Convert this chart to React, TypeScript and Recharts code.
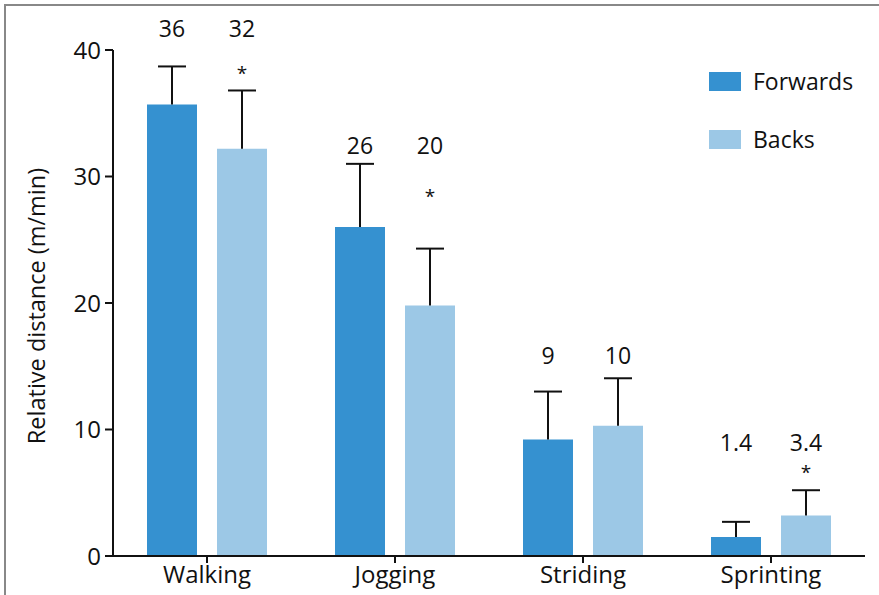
import { BarChart, Bar, XAxis, YAxis, ReferenceDot } from 'recharts';

const categories = ['Walking', 'Jogging', 'Striding', 'Sprinting'];
const forwards = [35.7, 26.0, 9.2, 1.5];
const forwardsSd = [3.0, 5.0, 3.8, 1.2];
const backs = [32.2, 19.8, 10.3, 3.2];
const backsSd = [4.6, 4.5, 3.75, 2.0];
const forwardsLabels = ['36', '26', '9', '1.4'];
const backsLabels = ['32', '20', '10', '3.4'];
const backsSignificant = [true, true, false, true];
const yTicks = [0, 10, 20, 30, 40];

// annotation heights, in axis units
const labelLevel = [41.7, 32.5, 15.9, 9.0];
const starLevel = [38.2, 28.45, 0, 6.64];

const FWD = '#3591d0';
const BCK = '#9cc8e6';
const FONT = '"Open Sans", sans-serif';

const data = categories.map((category, i) => ({
  category,
  forwards: forwards[i],
  forwardsSd: forwardsSd[i],
  backs: backs[i],
  backsSd: backsSd[i],
}));

function ErrorShape(props: any) {
  const { x, y, width, height } = props;
  const cx = x + width / 2;
  return (
    <g stroke="#111" strokeWidth={2}>
      <line x1={cx} y1={y + height} x2={cx} y2={y} />
      <line x1={cx - 14} y1={y} x2={cx + 14} y2={y} />
    </g>
  );
}

const textAt = (text: string, dx: number, size: number) => (p: any) => (
  <text
    x={p.viewBox.x + dx}
    y={p.viewBox.y}
    textAnchor="middle"
    dominantBaseline="central"
    fontSize={size}
    fontFamily={FONT}
    fill="#111"
  >
    {text}
  </text>
);

function LegendBox() {
  const items = [
    { name: 'Forwards', color: FWD },
    { name: 'Backs', color: BCK },
  ];
  return (
    <div style={{ position: 'absolute', left: 709, top: 52, fontFamily: FONT, fontSize: 23, color: '#111' }}>
      {items.map((it) => (
        <div key={it.name} style={{ display: 'flex', alignItems: 'center', height: 58 }}>
          <div style={{ width: 32, height: 19, background: it.color, marginRight: 12 }} />
          <span>{it.name}</span>
        </div>
      ))}
    </div>
  );
}

export default function App() {
  return (
    <div style={{ position: 'absolute', left: 0, top: 0, width: 879, height: 595, background: '#fff', overflow: 'hidden' }}>
      <div
        style={{
          position: 'absolute', left: 4, top: 4, width: 900, height: 620,
          borderTop: '2px solid #888', borderLeft: '2px solid #888',
        }}
      />
      <BarChart
        width={879}
        height={595}
        data={data}
        margin={{ top: 50, right: 14, bottom: 0, left: 0 }}
        barSize={50}
        barGap={20}
      >
        <XAxis
          dataKey="category"
          height={39}
          tickSize={7}
          tickMargin={3}
          axisLine={{ stroke: '#111', strokeWidth: 2 }}
          tickLine={{ stroke: '#111', strokeWidth: 2 }}
          tick={{ fill: '#111', fontSize: 24, fontFamily: FONT }}
        />
        <YAxis
          width={113}
          domain={[0, 40]}
          ticks={yTicks}
          tickSize={8}
          tickMargin={4}
          axisLine={{ stroke: '#111', strokeWidth: 2 }}
          tickLine={{ stroke: '#111', strokeWidth: 2 }}
          tick={{ fill: '#111', fontSize: 24, fontFamily: FONT }}
          label={() => (
            <text
              x={36}
              y={306}
              transform="rotate(-90, 36, 306)"
              textAnchor="middle"
              dominantBaseline="central"
              fontSize={23.5}
              fontFamily={FONT}
              fill="#111"
            >
              Relative distance (m/min)
            </text>
          )}
        />
        <Bar dataKey="forwards" name="Forwards" stackId="f" fill={FWD} isAnimationActive={false} />
        <Bar dataKey="forwardsSd" stackId="f" legendType="none" shape={ErrorShape} isAnimationActive={false} />
        <Bar dataKey="backs" name="Backs" stackId="b" fill={BCK} isAnimationActive={false} />
        <Bar dataKey="backsSd" stackId="b" legendType="none" shape={ErrorShape} isAnimationActive={false} />
        {categories.map((c, i) => (
          <ReferenceDot key={'f' + c} x={c} y={labelLevel[i]} r={0} ifOverflow="visible" label={textAt(forwardsLabels[i], -35, 23)} />
        ))}
        {categories.map((c, i) => (
          <ReferenceDot key={'b' + c} x={c} y={labelLevel[i]} r={0} ifOverflow="visible" label={textAt(backsLabels[i], 35, 23)} />
        ))}
        {categories.map((c, i) =>
          backsSignificant[i] ? (
            <ReferenceDot key={'s' + c} x={c} y={starLevel[i]} r={0} ifOverflow="visible" label={textAt('*', 35, 19)} />
          ) : null
        )}
      </BarChart>
      <LegendBox />
    </div>
  );
}
